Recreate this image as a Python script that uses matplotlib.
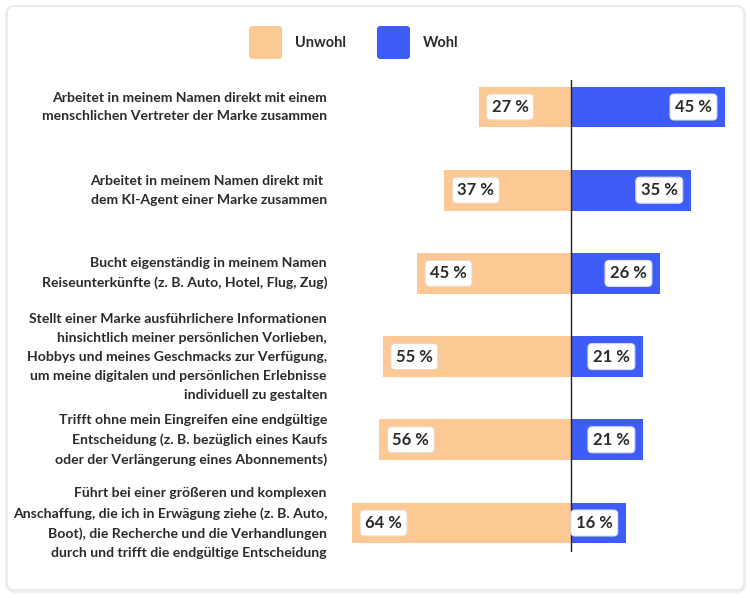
import matplotlib.pyplot as plt
from matplotlib.patches import FancyBboxPatch

# ── data ──────────────────────────────────────────────────────────────────────
labels = [
    "Arbeitet in meinem Namen direkt mit einem\nmenschlichen Vertreter der Marke zusammen",
    "Arbeitet in meinem Namen direkt mit \ndem KI-Agent einer Marke zusammen",
    "Bucht eigenständig in meinem Namen\nReiseunterkünfte (z. B. Auto, Hotel, Flug, Zug)",
    "Stellt einer Marke ausführlichere Informationen\nhinsichtlich meiner persönlichen Vorlieben,\n"
    "Hobbys und meines Geschmacks zur Verfügung,\num meine digitalen und persönlichen Erlebnisse\n"
    "individuell zu gestalten",
    "Trifft ohne mein Eingreifen eine endgültige\nEntscheidung (z. B. bezüglich eines Kaufs\n"
    "oder der Verlängerung eines Abonnements)",
    "Führt bei einer größeren und komplexen\nAnschaffung, die ich in Erwägung ziehe (z. B. Auto,\n"
    "Boot), die Recherche und die Verhandlungen\ndurch und trifft die endgültige Entscheidung",
]
unwohl = [27, 37, 45, 55, 56, 64]
wohl = [45, 35, 26, 21, 21, 16]
series_names = ["Unwohl", "Wohl"]

ORANGE = "#FCC994"
BLUE = "#3D5CF9"
TXT = "#2b2b2b"
plt.rcParams["font.family"] = ["Lato", "DejaVu Sans"]

W, H = 750, 598
fig = plt.figure(figsize=(W / 100, H / 100), dpi=100)
fig.patch.set_facecolor("white")

# card background (soft shadow + white card)
shadow = FancyBboxPatch((7 / W, 1 - 591 / H), 737 / W, 584 / H,
                        boxstyle="round,pad=0,rounding_size=0.012",
                        transform=fig.transFigure, facecolor="none",
                        edgecolor="#f0f0f0", lw=3, zorder=-6)
card = FancyBboxPatch((7 / W, 1 - 590 / H), 737 / W, 584 / H,
                      boxstyle="round,pad=0,rounding_size=0.012",
                      transform=fig.transFigure, facecolor="white",
                      edgecolor="#e8e8e8", lw=1.0, zorder=-5)
fig.patches.extend([shadow, card])

# ── axes geometry (px) ───────────────────────────────────────────────────────
x0, pxp = 571, 3.42            # zero line, px per %
ax_l, ax_r = 332, 748
y_top, y_bot = 80, 552
ax = fig.add_axes([ax_l / W, 1 - y_bot / H, (ax_r - ax_l) / W, (y_bot - y_top) / H])
ax.set_zorder(2)
ax.set_xlim((ax_l - x0) / pxp, (ax_r - x0) / pxp)
ax.set_ylim(5 + (y_bot - 523) / 83.2, -(107 - y_top) / 83.2)
ax.axis("off")

ypos = list(range(len(labels)))
ax.barh(ypos, [-v for v in unwohl], height=0.49, color=ORANGE, zorder=1)
ax.barh(ypos, wohl, height=0.49, color=BLUE, zorder=1)
ax.axvline(0, color="#222222", lw=1, zorder=3)

box = dict(boxstyle="round,pad=0.3,rounding_size=0.25", facecolor="white",
           edgecolor="#ecd8c2", lw=0.8)
boxb = dict(box, edgecolor="#d8def8")
off = 13 / pxp
for y, u, w in zip(ypos, unwohl, wohl):
    ax.text(-u + off, y, f"{u} %", ha="left", va="center", fontsize=12,
            fontweight="bold", color=TXT, bbox=box, zorder=4)
    ax.text(w - off, y, f"{w} %", ha="right", va="center", fontsize=12,
            fontweight="bold", color=TXT, bbox=boxb, zorder=4)

lx = (327 - x0) / pxp
for y, lab in zip(ypos, labels):
    ax.text(lx, y, lab, ha="right", va="center", fontsize=10.1,
            fontweight="bold", color=TXT, linespacing=1.7, clip_on=False)

# ── legend ────────────────────────────────────────────────────────────────────
for (sx, tx), name, col in zip([(249, 295), (377, 423)], series_names, [ORANGE, BLUE]):
    fig.patches.append(FancyBboxPatch((sx / W, 1 - 59 / H), 33 / W, 33 / H,
                                      boxstyle="round,pad=0,rounding_size=0.005",
                                      transform=fig.transFigure, facecolor=col,
                                      edgecolor="none"))
    fig.text(tx / W, 1 - 43 / H, name, ha="left", va="center", fontsize=10.5,
             fontweight="bold", color=TXT)

fig.savefig("out.png", dpi=100)
